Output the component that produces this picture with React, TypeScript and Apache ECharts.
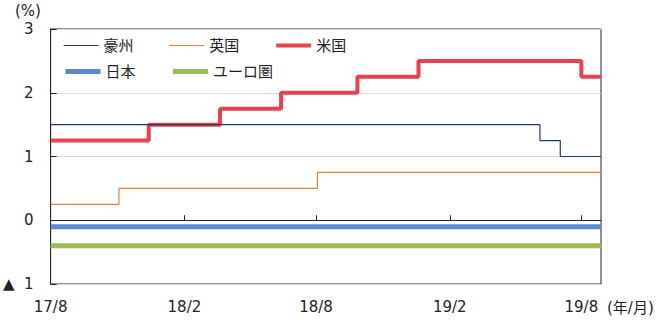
import React, { useEffect, useRef } from "react";
import * as echarts from "echarts";

// ---- data (change dates and rates, %) ----
const axisStart = "2017-08-01";
const axisEnd = "2019-08-28";
const tickDates = ["2017-08-01", "2018-02-01", "2018-08-01", "2019-02-01", "2019-08-01"];
const tickLabels = ["17/8", "18/2", "18/8", "19/2", "19/8"];
const yTicks = [-1, 0, 1, 2, 3];

const ausDates = ["2017-08-01", "2019-06-05", "2019-07-03", "2019-08-28"];
const ausValues = [1.5, 1.25, 1.0, 1.0];

const ukDates = ["2017-08-01", "2017-11-03", "2018-08-03", "2019-08-28"];
const ukValues = [0.25, 0.5, 0.75, 0.75];

const usDates = ["2017-08-01", "2017-12-14", "2018-03-22", "2018-06-14", "2018-09-27", "2018-12-20", "2019-08-01", "2019-08-28"];
const usValues = [1.25, 1.5, 1.75, 2.0, 2.25, 2.5, 2.25, 2.25];

const jpDates = ["2017-08-01", "2019-08-28"];
const jpValues = [-0.1, -0.1];

const euDates = ["2017-08-01", "2019-08-28"];
const euValues = [-0.4, -0.4];

const FONT = "'DejaVu Sans', 'Noto Sans CJK JP', sans-serif";
const DAY = 86400000;

const WIDTHS: Record<string, number> = { 豪州: 1.2, 英国: 1.2, 米国: 4, 日本: 5, ユーロ圏: 5 };
const COLORS: Record<string, string> = {
  豪州: "#203864",
  英国: "#ED7D31",
  米国: "#E5444F",
  日本: "#5B8BCB",
  ユーロ圏: "#9BBB59",
};

function dayIndex(s: string): number {
  const [y, m, d] = s.split("-").map(Number);
  const [y0, m0, d0] = axisStart.split("-").map(Number);
  return Math.round((Date.UTC(y, m - 1, d) - Date.UTC(y0, m0 - 1, d0)) / DAY);
}
function pairs(dates: string[], vals: number[]) {
  return dates.map((d, i) => [dayIndex(d), vals[i]]);
}
const tickPos = tickDates.map(dayIndex);

export default function App() {
  const ref = useRef<HTMLDivElement>(null);
  useEffect(() => {
    if (!ref.current) return;
    const chart = echarts.init(ref.current, undefined, { renderer: "svg" });
    const line = (name: string, dates: string[], vals: number[], z: number) => ({
      name,
      type: "line",
      step: "end",
      symbol: "none",
      showSymbol: false,
      data: pairs(dates, vals),
      lineStyle: { color: COLORS[name], width: WIDTHS[name] },
      itemStyle: { color: COLORS[name] },
      z,
    });
    const legendItem = (name: string) => ({
      name,
      lineStyle: { width: WIDTHS[name], color: COLORS[name] },
    });
    const legendCommon = {
      left: 63,
      padding: 0,
      itemWidth: 35,
      itemHeight: 2,
      itemGap: 35,
      itemStyle: { opacity: 0 },
      textStyle: { fontSize: 15, color: "#222", fontFamily: FONT },
      selectedMode: false,
    };
    chart.setOption({
      animation: false,
      textStyle: { fontFamily: FONT },
      grid: {
        left: 50,
        right: 65,
        top: 29,
        bottom: 38,
        show: true,
        borderColor: "#222",
        borderWidth: 1,
        backgroundColor: "transparent",
      },
      legend: [
        { ...legendCommon, top: 38, data: ["豪州", "英国", "米国"].map(legendItem) },
        { ...legendCommon, top: 64, data: ["日本", "ユーロ圏"].map(legendItem) },
      ],
      xAxis: {
        type: "value",
        min: 0,
        max: dayIndex(axisEnd),
        axisLine: { lineStyle: { color: "#222", width: 1 } },
        axisTick: {
          show: true,
          inside: true,
          length: 5,
          lineStyle: { color: "#222" },
          customValues: tickPos.slice(1),
        },
        splitLine: { show: false },
        axisLabel: {
          fontSize: 15,
          color: "#222",
          margin: 15,
          fontFamily: FONT,
          customValues: tickPos,
          formatter: (v: number) => {
            const i = tickPos.indexOf(Math.round(v));
            return i >= 0 ? tickLabels[i] : "";
          },
        },
      },
      yAxis: {
        type: "value",
        min: yTicks[0],
        max: yTicks[yTicks.length - 1],
        interval: 1,
        axisLine: { show: true, lineStyle: { color: "#222", width: 1 } },
        axisTick: { show: true, inside: true, length: 6, lineStyle: { color: "#222" } },
        splitLine: { show: true, lineStyle: { color: "#D9D9D9", width: 1 } },
        axisLabel: {
          fontSize: 15,
          color: "#222",
          margin: 17,
          fontFamily: FONT,
          formatter: (v: number) => (v < 0 ? `▲  ${Math.abs(v)}` : String(v)),
        },
      },
      graphic: [
        { type: "text", left: 15, top: 3, style: { text: "(%)", fontSize: 15, fill: "#222", fontFamily: FONT } },
        { type: "text", left: 607, top: 300, style: { text: "(年/月)", fontSize: 15, fill: "#222", fontFamily: FONT } },
      ],
      series: [
        line("米国", usDates, usValues, 2),
        line("日本", jpDates, jpValues, 2),
        line("ユーロ圏", euDates, euValues, 2),
        line("英国", ukDates, ukValues, 3),
        line("豪州", ausDates, ausValues, 4),
      ],
    });
    return () => chart.dispose();
  }, []);
  return (
    <div
      ref={ref}
      style={{ position: "fixed", left: 0, top: 0, width: 666, height: 322, background: "#fff" }}
    />
  );
}
